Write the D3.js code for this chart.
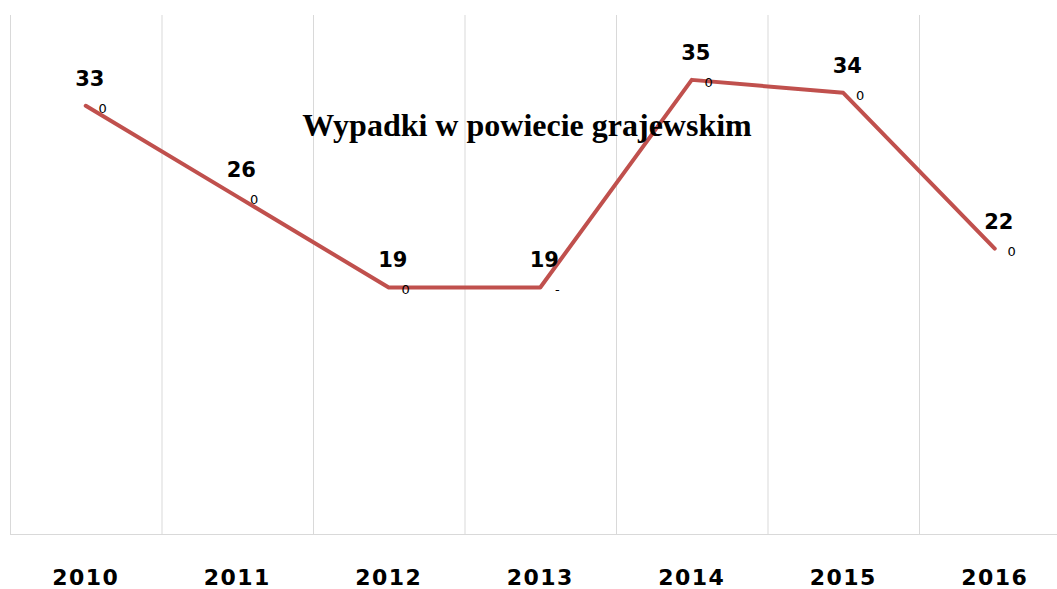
<!DOCTYPE html>
<html>
<head>
<meta charset="utf-8">
<script src="https://cdn.jsdelivr.net/npm/d3@7"></script>
<style>
  body { margin: 0; background: #fff; }
  svg { display: block; }
</style>
</head>
<body>
<div id="chart"></div>
<script>
// chart data
years = ["2010", "2011", "2012", "2013", "2014", "2015", "2016"]
accidents = [33, 26, 19, 19, 35, 34, 22]
smallLabels = ["0", "0", "0", "-", "0", "0", "0"]
chartTitle = "Wypadki w powiecie grajewskim"

width = 1057
height = 589

svg = d3.select("#chart").append("svg")
  .attr("width", width)
  .attr("height", height)

// plot area runs a little past the right edge, like the original
x = d3.scaleBand().domain(years).range([10, 1070.5]).padding(0)
y = d3.scaleLinear().domain([0, 40]).range([534, 15])

// vertical grid lines at category borders
svg.append("g").selectAll("line")
  .data(years)
  .enter().append("line")
    .attr("x1", function(d) { return x(d) + 0.5 })
    .attr("x2", function(d) { return x(d) + 0.5 })
    .attr("y1", y(40))
    .attr("y2", y(0))
    .attr("stroke", "#d9d9d9")
    .attr("stroke-width", 1)

// category axis
xAxis = svg.append("g")
  .attr("transform", "translate(0," + (y(0) + 0.5) + ")")
  .call(d3.axisBottom(x).tickSize(0).tickPadding(35))
xAxis.select(".domain").attr("stroke", "#d9d9d9").attr("d", "M10,0H1057")
xAxis.selectAll("text")
  .attr("fill", "#000")
  .style("font-family", "'DejaVu Sans', Verdana, sans-serif")
  .style("font-weight", "bold")
  .style("font-size", "22px")
  .style("letter-spacing", "1.5px")

cx = function(i) { return x(years[i]) + x.bandwidth() / 2 }

line = d3.line()
  .x(function(d, i) { return cx(i) })
  .y(function(d) { return y(d) })

svg.append("path")
  .datum(accidents)
  .attr("d", line)
  .attr("fill", "none")
  .attr("stroke", "#c0504d")
  .attr("stroke-width", 4)
  .attr("stroke-linejoin", "round")
  .attr("stroke-linecap", "round")

// chart title sits over the plot
svg.append("text")
  .attr("x", 527)
  .attr("y", 136)
  .attr("text-anchor", "middle")
  .attr("fill", "#000")
  .style("font-family", "'Liberation Serif', 'Times New Roman', serif")
  .style("font-weight", "bold")
  .style("font-size", "32px")
  .text(chartTitle)

// value labels
svg.append("g").selectAll("text")
  .data(accidents)
  .enter().append("text")
    .attr("x", function(d, i) { return cx(i) + 4 })
    .attr("y", function(d) { return y(d) - 20 })
    .attr("text-anchor", "middle")
    .attr("fill", "#000")
    .style("font-family", "'DejaVu Sans', Verdana, sans-serif")
    .style("font-weight", "bold")
    .style("font-size", "21px")
    .text(function(d) { return d })

// small second labels next to points
svg.append("g").selectAll("text")
  .data(smallLabels)
  .enter().append("text")
    .attr("x", function(d, i) { return cx(i) + 17 })
    .attr("y", function(d, i) { return y(accidents[i]) + 7 })
    .attr("text-anchor", "middle")
    .attr("fill", "#000")
    .style("font-family", "'DejaVu Sans', Verdana, sans-serif")
    .style("font-size", "13px")
    .text(function(d) { return d })
</script>
</body>
</html>
